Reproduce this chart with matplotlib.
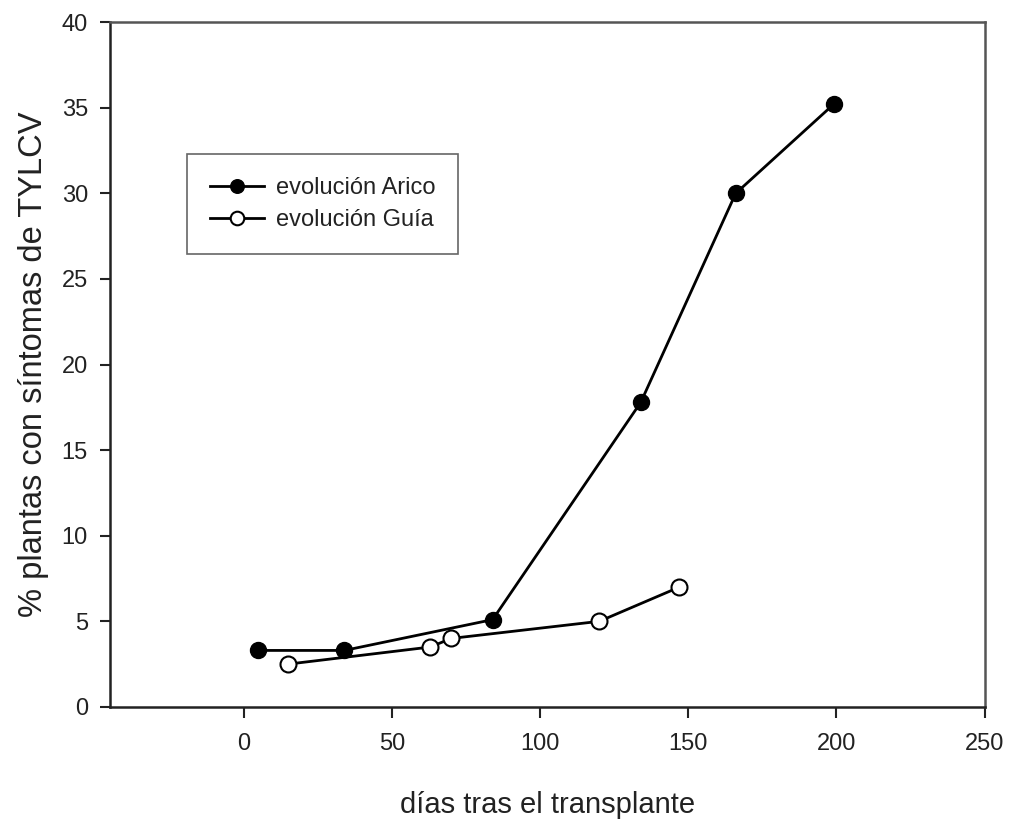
import matplotlib

matplotlib.use("Agg")
import matplotlib.pyplot as plt

plt.rcParams["font.family"] = ["Liberation Sans", "DejaVu Sans"]

# Datos
arico_dias = [5, 34, 84, 134, 166, 199]
arico_pct = [3.3, 3.3, 5.1, 17.8, 30.0, 35.2]
guia_dias = [15, 63, 70, 120, 147]
guia_pct = [2.5, 3.5, 4.0, 5.0, 7.0]

x_ticks = [0, 50, 100, 150, 200, 250]
y_ticks = [0, 5, 10, 15, 20, 25, 30, 35, 40]

figure, axis = plt.subplots(figsize=(10.11, 8.22), dpi=100)
figure.subplots_adjust(left=0.109, right=0.974, bottom=0.14, top=0.973)

axis.plot(arico_dias, arico_pct, color="black", linewidth=2.0, marker="o",
          markersize=11.5, markerfacecolor="black", markeredgecolor="black",
          label="evolución Arico")
axis.plot(guia_dias, guia_pct, color="black", linewidth=2.0, marker="o",
          markersize=11.5, markerfacecolor="white", markeredgecolor="black",
          markeredgewidth=1.5, label="evolución Guía")

axis.set_xlim(-45, 250)
axis.set_ylim(0, 40)
axis.set_xticks(x_ticks)
axis.set_yticks(y_ticks)
axis.tick_params(axis="both", labelsize=17, direction="out", width=1.5,
                 colors="#222222")
axis.tick_params(axis="x", length=8, pad=11)
axis.tick_params(axis="y", length=7, pad=9)

for side in ["left", "bottom"]:
    axis.spines[side].set_linewidth(1.8)
    axis.spines[side].set_color("#222222")
for side in ["top", "right"]:
    axis.spines[side].set_linewidth(1.8)
    axis.spines[side].set_color("#555555")

axis.set_xlabel("días tras el transplante", fontsize=21, labelpad=26,
                color="#222222")
axis.set_ylabel("% plantas con síntomas de TYLCV", fontsize=23.5,
                labelpad=9, color="#222222")

legend = axis.legend(loc="upper left", bbox_to_anchor=(0.088, 0.807),
                     fontsize=17, fancybox=False, framealpha=1,
                     edgecolor="#666666", handlelength=2.3, borderpad=0.95,
                     labelspacing=0.45, handletextpad=0.5, markerscale=0.85,
                     borderaxespad=0)
legend.get_frame().set_linewidth(1.2)
for text in legend.get_texts():
    text.set_color("#222222")

figure.savefig("out.png", dpi=100)
plt.close(figure)
